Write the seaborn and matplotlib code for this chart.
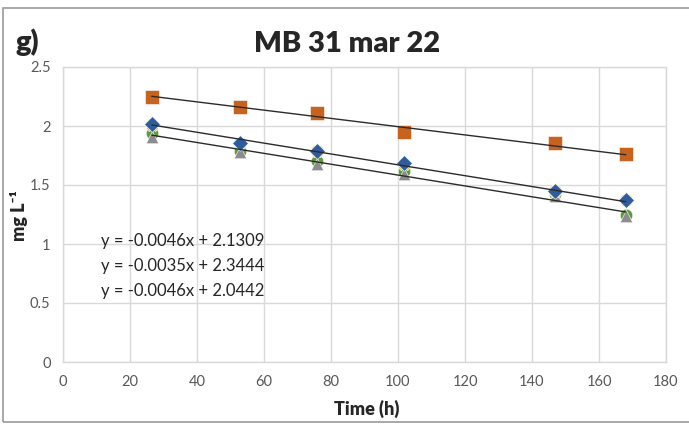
import numpy as np
import pandas as pd
import matplotlib
matplotlib.use("Agg")
import matplotlib.pyplot as plt
import seaborn as sns
from matplotlib.patches import Rectangle

# --- Data ---
time_h = [26.5, 52.7, 75.8, 101.7, 146.8, 168.0]
s_orange = [2.25, 2.16, 2.11, 1.95, 1.86, 1.76]
s_blue = [2.02, 1.86, 1.79, 1.69, 1.45, 1.37]
s_yellow = [2.01, 1.86, 1.79, 1.68, 1.45, 1.37]
s_green = [1.94, 1.79, 1.70, 1.62, 1.42, 1.25]
s_gray = [1.91, 1.78, 1.68, 1.59, 1.41, 1.24]

# linear trendlines shown on chart (slope, intercept)
trend_slopes = [-0.0046, -0.0035, -0.0046]
trend_intercepts = [2.1309, 2.3444, 2.0442]

x_ticks = [0, 20, 40, 60, 80, 100, 120, 140, 160, 180]
y_ticks = [0, 0.5, 1, 1.5, 2, 2.5]

# --- Style ---
sns.set_style("white")
plt.rcParams['font.family'] = ['Lato', 'DejaVu Sans']

fig = plt.figure(figsize=(6.89, 4.28), dpi=100)
ax = fig.add_axes([63/689, 1-362/428, (666-63)/689, (362-67)/428])

series = [
    (s_green, "o", "#5E9B3A", 9),
    (s_gray, "^", "#8C8C8C", 9),
    (s_yellow, "X", "#F5C242", 9),
    (s_blue, "D", "#2F5C9E", 8),
    (s_orange, "s", "#C8621F", 9.5),
]
for vals, mk, col, ms in series:
    df = pd.DataFrame({"t": time_h, "c": vals})
    sns.scatterplot(data=df, x="t", y="c", marker=mk, color=col,
                    s=ms**2, edgecolor="white", linewidth=0.4, ax=ax, zorder=3)

# trendlines
xs = np.array([time_h[0], time_h[-1]])
for m, b in zip(trend_slopes, trend_intercepts):
    sns.lineplot(x=xs, y=m*xs + b, color="#2b2b2b", lw=1.0, ax=ax, zorder=4)

ax.set_xlim(0, 180)
ax.set_ylim(0, 2.5)
ax.set_xticks(x_ticks)
ax.set_yticks(y_ticks)
ax.set_xticklabels([str(v) for v in x_ticks])
ax.set_yticklabels(["0", "0.5", "1", "1.5", "2", "2.5"])
ax.tick_params(length=0, labelsize=10.5, labelcolor="#595959", pad=9)
ax.grid(True, color="#d9d9d9", lw=1)
for sp in ax.spines.values():
    sp.set_color("#d9d9d9")
    sp.set_linewidth(1)
ax.set_xlabel("")
ax.set_ylabel("")

# equations
for i, (m, b) in enumerate(zip(trend_slopes, trend_intercepts)):
    fig.text(101/689, 1-(241 + 25*i)/428, f"y = {m:.4f}x + {b:.4f}",
             fontsize=12, color="#262626", va="center", ha="left")

# titles and labels
fig.text(347/689, 1-44/428, "MB 31 mar 22", fontsize=21, fontweight="heavy",
         ha="center", va="center")
fig.text(27/689, 1-42/428, "g)", fontsize=21, fontweight="heavy",
         ha="center", va="center")
fig.text(367/689, 1-409/428, "Time (h)", fontsize=13, fontweight="heavy",
         ha="center", va="center")
fig.text(19/689, 1-216/428, "mg L⁻¹", fontsize=13, fontweight="heavy",
         ha="center", va="center", rotation=90)

# chart area border
fig.patches.append(Rectangle((3/689, 6/428), 1.0, 1-14/428, transform=fig.transFigure,
                             fill=False, edgecolor="#9a9a9a", lw=1.2))

fig.savefig("out.png", dpi=100)
plt.close()
